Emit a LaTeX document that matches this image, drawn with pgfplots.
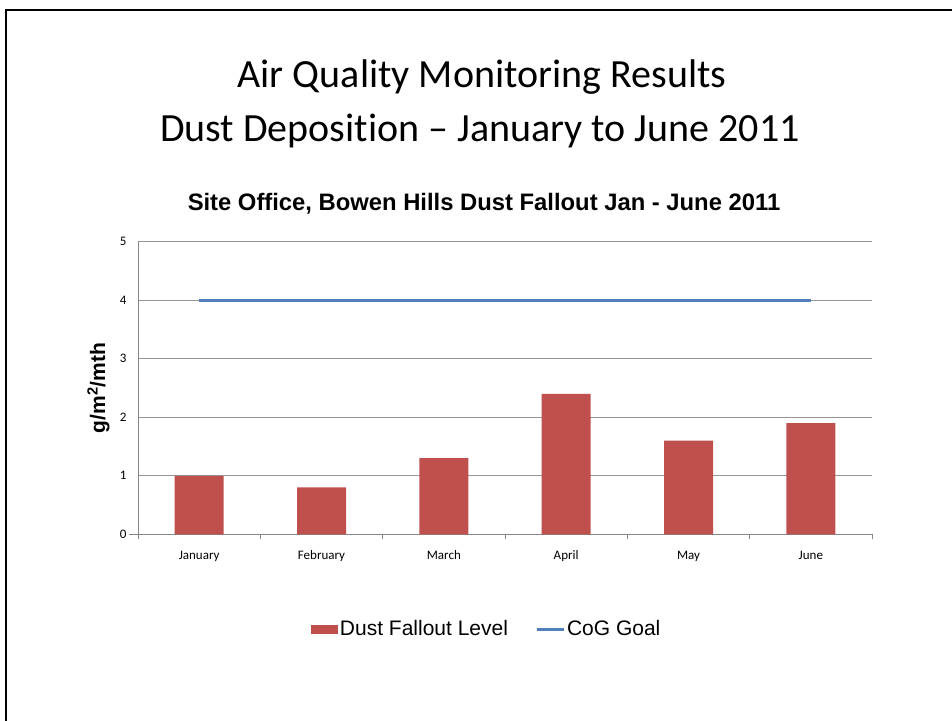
\documentclass[border=0pt]{standalone}
\usepackage{pgfplots}
\pgfplotsset{compat=1.18}
\usepackage{fontspec}
\setmainfont{Carlito}[Ligatures={NoCommon}]
\newfontfamily\arial{Liberation Sans}
\definecolor{barred}{HTML}{C0504D}
\definecolor{goalblue}{HTML}{4F81BD}
\definecolor{axgray}{HTML}{868686}
\definecolor{gridgray}{HTML}{969696}
\begin{document}
\begin{tikzpicture}
\useasboundingbox (0,0) rectangle (952pt,720pt);
\draw[line width=2pt, black] (5.5pt,-20pt) -- (5.5pt,709.5pt) -- (970pt,709.5pt);
\node[anchor=base, font=\fontsize{40}{48}\selectfont] at (482pt,632pt) {Air Quality Monitoring Results};
\node[anchor=base, font=\fontsize{40}{48}\selectfont] at (480pt,578pt) {Dust Deposit\kern0pt ion – January to June 2011};
\node[anchor=base, font=\arial\bfseries\fontsize{23.8}{28}\selectfont] at (484pt,509pt) {Site Office, Bowen Hills Dust Fallout Jan - June 2011};
\begin{axis}[
  at={(138pt,185.7pt)}, anchor=south west,
  scale only axis, width=734pt, height=292.6pt,
  xmin=-0.5, xmax=5.5, ymin=0, ymax=5,
  xtick={0,1,2,3,4,5},
  xticklabels={January,February,March,April,May,June},
  minor xtick={-0.5,0.5,1.5,2.5,3.5,4.5,5.5},
  ytick={0,1,2,3,4,5},
  axis x line*=bottom, axis y line*=left,
  axis line style={axgray, line width=1pt},
  tick align=outside,
  major tick length=0pt, minor tick length=5pt,
  minor tick style={axgray, line width=1pt},
  ymajorgrids,
  grid style={gridgray, line width=0.9pt},
  /pgf/number format/assume math mode=true,
  ticklabel style={font=\fontsize{13}{15}\selectfont, text=black},
  xticklabel style={yshift=-13pt},
  yticklabel style={xshift=-8pt},
  ylabel={g/m\textsuperscript{2}/mth},
  ylabel style={at={(axis description cs:-0.054,0.5)}, anchor=center, rotate=0, font=\arial\bfseries\fontsize{21}{24}\selectfont},
  legend style={at={(axis description cs:0.475,-0.324)}, anchor=center, draw=none, fill=none,
    font=\arial\fontsize{21}{24}\selectfont, inner sep=0pt,
    /tikz/every even column/.append style={column sep=25pt},
    nodes={inner xsep=2pt}},
  legend columns=-1,
  clip=false,
  after end axis/.code={\draw[axgray, line width=1pt] (axis cs:-0.5,0) -- ++(-9pt,0pt);},
]
\addplot[ybar, bar width=49pt, fill=barred, draw=none,
  legend image code/.code={\fill[barred] (0pt,-4.5pt) rectangle (27pt,4.5pt);}]
  coordinates {(0,1.0) (1,0.8) (2,1.3) (3,2.4) (4,1.6) (5,1.9)};
\addlegendentry{Dust Fallout Level}
\addplot[goalblue, line width=3pt, mark=none,
  legend image code/.code={\draw[goalblue, line width=3pt] (0pt,0pt) -- (27pt,0pt);}]
  coordinates {(0,4) (1,4) (2,4) (3,4) (4,4) (5,4)};
\addlegendentry{CoG Goal}
\end{axis}
\end{tikzpicture}
\end{document}
